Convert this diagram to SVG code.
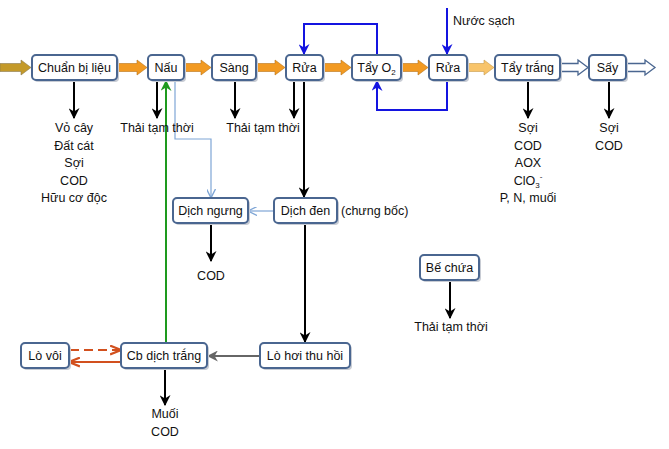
<svg xmlns="http://www.w3.org/2000/svg" width="669" height="449" viewBox="0 0 669 449">
<style>
.n rect.b{fill:#fff;stroke:#4A6690;stroke-width:2}
.n rect.s{fill:#c8ccd4}
text{font-family:"Liberation Sans",Arial,sans-serif;font-size:12.5px;fill:#111}
.t{text-anchor:middle}
.k{stroke:#000;stroke-width:2;fill:none}
.bl{stroke:#1414E0;stroke-width:2;fill:none}
.lb{stroke:#7FA6D6;stroke-width:1.2;fill:none}
.bo{fill:#F29A22;stroke:#B8741A;stroke-width:0.6}
.ho{fill:#fff;stroke:#4A6690;stroke-width:1.3}
</style>
<defs>
<marker id="mk" viewBox="0 0 10 10" refX="9" refY="5" markerWidth="11" markerHeight="11" markerUnits="userSpaceOnUse" orient="auto"><path d="M0,0 L10,5 L0,10 L3,5z" fill="#000"/></marker>
<marker id="mb" viewBox="0 0 10 10" refX="9" refY="5" markerWidth="11" markerHeight="11" markerUnits="userSpaceOnUse" orient="auto"><path d="M0,0 L10,5 L0,10 L3,5z" fill="#1414E0"/></marker>
<marker id="mg" viewBox="0 0 10 10" refX="9" refY="5" markerWidth="11" markerHeight="11" markerUnits="userSpaceOnUse" orient="auto"><path d="M0,0 L10,5 L0,10 L3,5z" fill="#1E9A1E"/></marker>
<marker id="ml" viewBox="0 0 10 10" refX="9" refY="5" markerWidth="9" markerHeight="9" markerUnits="userSpaceOnUse" orient="auto"><path d="M0,0 L10,5 L0,10" fill="none" stroke="#7FA6D6" stroke-width="1.5"/></marker>
<marker id="my" viewBox="0 0 10 10" refX="9" refY="5" markerWidth="11" markerHeight="11" markerUnits="userSpaceOnUse" orient="auto"><path d="M0,0 L10,5 L0,10 L3,5z" fill="#666"/></marker>
<marker id="mr" viewBox="0 0 10 10" refX="9" refY="5" markerWidth="11" markerHeight="11" markerUnits="userSpaceOnUse" orient="auto"><path d="M0,1 L10,5 L0,9" fill="none" stroke="#D2501E" stroke-width="2"/></marker>
</defs>

<g id="connectors">
<path d="M0,63.5 L21,63.5 L21,60 L31,67.5 L21,75 L21,71.5 L0,71.5Z" fill="#C49A2A" stroke="#8A7A50" stroke-width="0.6"/>
<path class="bo" d="M117,63.5 L137,63.5 L137,60 L147,67.5 L137,75 L137,71.5 L117,71.5Z"/>
<path class="bo" d="M184,63.5 L201,63.5 L201,60 L211,67.5 L201,75 L201,71.5 L184,71.5Z"/>
<path class="bo" d="M256,63.5 L275,63.5 L275,60 L285,67.5 L275,75 L275,71.5 L256,71.5Z"/>
<path class="bo" d="M323,63.5 L341,63.5 L341,60 L351,67.5 L341,75 L341,71.5 L323,71.5Z"/>
<path class="bo" d="M401,63.5 L418,63.5 L418,60 L428,67.5 L418,75 L418,71.5 L401,71.5Z"/>
<path d="M467,63.5 L484,63.5 L484,60 L494,67.5 L484,75 L484,71.5 L467,71.5Z" fill="#F8C46A" stroke="#C89A4A" stroke-width="0.6"/>
<path class="ho" d="M560,63.5 L578,63.5 L578,60 L588,67.5 L578,75 L578,71.5 L560,71.5Z"/>
<path class="ho" d="M626,63.5 L645,63.5 L645,60 L655,67.5 L645,75 L645,71.5 L626,71.5Z"/>

<line class="k" x1="74" y1="80" x2="74" y2="118" marker-end="url(#mk)"/>
<line class="k" x1="157" y1="80" x2="157" y2="118" marker-end="url(#mk)"/>
<line class="k" x1="235" y1="80" x2="235" y2="118" marker-end="url(#mk)"/>
<line class="k" x1="294" y1="80" x2="294" y2="118" marker-end="url(#mk)"/>
<line class="k" x1="304" y1="80" x2="304" y2="197" marker-end="url(#mk)"/>
<line class="k" x1="528" y1="80" x2="528" y2="118" marker-end="url(#mk)"/>
<line class="k" x1="609" y1="80" x2="609" y2="118" marker-end="url(#mk)"/>
<line class="k" x1="211" y1="223" x2="211" y2="261" marker-end="url(#mk)"/>
<line class="k" x1="305" y1="223" x2="305" y2="342" marker-end="url(#mk)"/>
<line class="k" x1="450" y1="281" x2="450" y2="318" marker-end="url(#mk)"/>
<line class="k" x1="165" y1="368" x2="165" y2="405" marker-end="url(#mk)"/>

<line x1="166" y1="343" x2="166" y2="81" stroke="#1E9A1E" stroke-width="2" marker-end="url(#mg)"/>

<polyline class="lb" points="175,80 175,139 211,139 211,197" marker-end="url(#ml)"/>
<line class="lb" x1="274" y1="211" x2="249" y2="211" marker-end="url(#ml)"/>

<polyline class="bl" points="377,55 377,24 304,24 304,54" marker-end="url(#mb)"/>
<line class="bl" x1="447" y1="8" x2="447" y2="54" marker-end="url(#mb)"/>
<polyline class="bl" points="447,80 447,110 377,110 377,81" marker-end="url(#mb)"/>

<line x1="260" y1="356" x2="208" y2="356" stroke="#666" stroke-width="2" marker-end="url(#my)"/>
<line x1="70" y1="350" x2="120" y2="350" stroke="#D2501E" stroke-width="2" stroke-dasharray="9,5" marker-end="url(#mr)"/>
<line x1="121" y1="362" x2="70" y2="362" stroke="#D2501E" stroke-width="2" marker-end="url(#mr)"/>
</g>

<g id="n1" class="n"><rect class="s" x="34" y="57" width="85" height="25" rx="4"/><rect class="b" x="32" y="55" width="85" height="25" rx="4"/><text class="t" x="74.5" y="72">Chuẩn bị liệu</text></g>
<g id="n2" class="n"><rect class="s" x="150" y="57" width="36" height="25" rx="4"/><rect class="b" x="148" y="55" width="36" height="25" rx="4"/><text class="t" x="166" y="72">Nấu</text></g>
<g id="n3" class="n"><rect class="s" x="214" y="57" width="44" height="25" rx="4"/><rect class="b" x="212" y="55" width="44" height="25" rx="4"/><text class="t" x="234" y="72">Sàng</text></g>
<g id="n4" class="n"><rect class="s" x="288" y="57" width="37" height="25" rx="4"/><rect class="b" x="286" y="55" width="37" height="25" rx="4"/><text class="t" x="304.5" y="72">Rửa</text></g>
<g id="n5" class="n"><rect class="s" x="354" y="57" width="49" height="25" rx="4"/><rect class="b" x="352" y="55" width="49" height="25" rx="4"/><text class="t" x="376.5" y="72">Tẩy O<tspan font-size="8" dy="3">2</tspan></text></g>
<g id="n6" class="n"><rect class="s" x="431" y="57" width="38" height="25" rx="4"/><rect class="b" x="429" y="55" width="38" height="25" rx="4"/><text class="t" x="448" y="72">Rửa</text></g>
<g id="n7" class="n"><rect class="s" x="497" y="57" width="65" height="25" rx="4"/><rect class="b" x="495" y="55" width="65" height="25" rx="4"/><text class="t" x="527.5" y="72">Tẩy trắng</text></g>
<g id="n8" class="n"><rect class="s" x="591" y="57" width="37" height="25" rx="4"/><rect class="b" x="589" y="55" width="37" height="25" rx="4"/><text class="t" x="607.5" y="72">Sấy</text></g>
<g id="n9" class="n"><rect class="s" x="175" y="200" width="75" height="25" rx="4"/><rect class="b" x="173" y="198" width="75" height="25" rx="4"/><text class="t" x="210.5" y="215">Dịch ngưng</text></g>
<g id="n10" class="n"><rect class="s" x="276" y="200" width="63" height="25" rx="4"/><rect class="b" x="274" y="198" width="63" height="25" rx="4"/><text class="t" x="305.5" y="215">Dịch đen</text></g>
<g id="n11" class="n"><rect class="s" x="422" y="257" width="59" height="25" rx="4"/><rect class="b" x="420" y="255" width="59" height="25" rx="4"/><text class="t" x="449.5" y="272">Bế chứa</text></g>
<g id="n12" class="n"><rect class="s" x="23" y="345" width="48" height="25" rx="4"/><rect class="b" x="21" y="343" width="48" height="25" rx="4"/><text class="t" x="45" y="360">Lò vôi</text></g>
<g id="n13" class="n"><rect class="s" x="123" y="345" width="86" height="25" rx="4"/><rect class="b" x="121" y="343" width="86" height="25" rx="4"/><text class="t" x="164" y="360">Cb dịch trắng</text></g>
<g id="n14" class="n"><rect class="s" x="262" y="345" width="90" height="25" rx="4"/><rect class="b" x="260" y="343" width="90" height="25" rx="4"/><text class="t" x="305" y="360">Lò hơi thu hồi</text></g>

<g id="labels">
<text class="t" x="74" y="132">Vỏ cây</text>
<text class="t" x="74" y="150">Đất cát</text>
<text class="t" x="74" y="167">Sợi</text>
<text class="t" x="74" y="185">COD</text>
<text class="t" x="74" y="202">Hữu cơ độc</text>
<text class="t" x="157" y="132">Thải tạm thời</text>
<text class="t" x="263" y="132">Thải tạm thời</text>
<text class="t" x="528" y="132">Sợi</text>
<text class="t" x="528" y="150">COD</text>
<text class="t" x="528" y="167">AOX</text>
<text class="t" x="528" y="185">ClO<tspan font-size="8" dy="3">3</tspan><tspan font-size="8" dy="-9">-</tspan></text>
<text class="t" x="528" y="202">P, N, muối</text>
<text class="t" x="609" y="132">Sợi</text>
<text class="t" x="609" y="150">COD</text>
<text x="341" y="215">(chưng bốc)</text>
<text x="453" y="25">Nước sạch</text>
<text class="t" x="211" y="280">COD</text>
<text class="t" x="451" y="331">Thải tạm thời</text>
<text class="t" x="165" y="418">Muối</text>
<text class="t" x="165" y="436">COD</text>
</g>
</svg>
